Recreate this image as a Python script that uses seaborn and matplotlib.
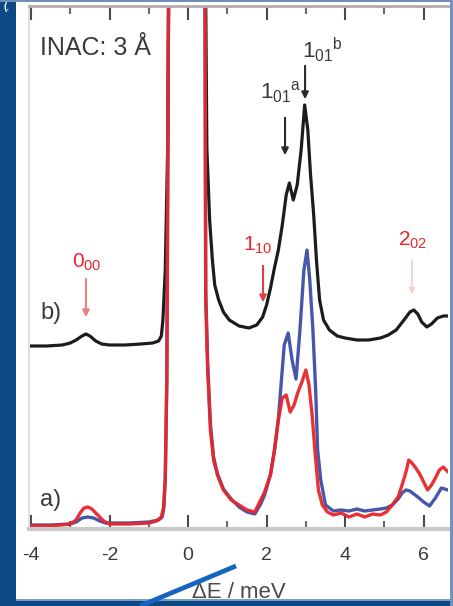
import numpy as np
import pandas as pd
import matplotlib
matplotlib.use("Agg")
import matplotlib.pyplot as plt
import seaborn as sns
from matplotlib.patches import Rectangle
from matplotlib.lines import Line2D

# ---------------- data ----------------
# b) INAC 3 Å spectrum (black), arbitrary intensity units
energy_b = [-4.05, -3.6, -3.2, -3.0, -2.85, -2.7, -2.6, -2.5, -2.35, -2.2, -2.0, -1.6,
            -1.2, -0.9, -0.75, -0.68, -0.64, -0.58, -0.52, -0.46, 0.0, 0.41, 0.48,
            0.55, 0.62, 0.68, 0.78, 0.9, 1.05, 1.3, 1.55, 1.75, 1.9, 2.0, 2.1, 2.2,
            2.3, 2.4, 2.5, 2.58, 2.68, 2.78, 2.88, 2.97, 3.05, 3.12, 3.2, 3.27, 3.35,
            3.45, 3.6, 3.8, 4.0, 4.3, 4.6, 4.9, 5.1, 5.3, 5.5, 5.65, 5.75, 5.85, 5.95,
            6.08, 6.2, 6.35, 6.5, 6.62]
intensity_b = [183, 183, 184, 186, 189, 193, 195, 193, 188, 185, 184, 184,
               185, 186, 188, 193, 209, 259, 379, 729, 4000, 729, 380,
               309, 269, 244, 229, 217, 209, 203, 201, 204, 212, 224, 241, 261,
               279, 304, 334, 346, 329, 344, 379, 424, 399, 354, 314, 269, 229,
               209, 199, 193, 191, 189, 189, 191, 194, 199, 209, 217, 219, 215, 207,
               202, 205, 211, 213, 213]

# a) red spectrum
energy_a_red = [-4.05, -3.5, -3.0, -2.85, -2.75, -2.65, -2.55, -2.45, -2.3, -2.15, -2.0,
                -1.5, -1.0, -0.8, -0.68, -0.62, -0.58, -0.54, -0.5, -0.45, 0.0, 0.41,
                0.45, 0.5, 0.57, 0.65, 0.75, 0.9, 1.1, 1.3, 1.5, 1.7, 1.85, 1.95, 2.1,
                2.2, 2.3, 2.4, 2.5, 2.6, 2.7, 2.8, 2.9, 3.0, 3.08, 3.16, 3.24, 3.32,
                3.42, 3.55, 3.7, 3.9, 4.1, 4.3, 4.5, 4.7, 4.9, 5.05, 5.2, 5.35, 5.45,
                5.55, 5.62, 5.7, 5.8, 5.9, 6.0, 6.1, 6.2, 6.3, 6.4, 6.5, 6.62]
intensity_a_red = [3, 3, 5, 9, 16, 21, 22, 20, 14, 8, 5,
                   5, 6, 8, 12, 22, 50, 150, 500, 900, 4000, 900,
                   229, 159, 99, 69, 54, 39, 29, 24, 19, 17, 29, 37, 54,
                   79, 109, 131, 134, 117, 124, 137, 147, 159, 144, 114, 74, 39,
                   24, 17, 14, 16, 12, 15, 12, 15, 14, 17, 24, 32, 44,
                   57, 69, 66, 61, 55, 47, 39, 44, 51, 59, 62, 57]

# a) blue spectrum
energy_a_blue = [-4.05, -3.5, -3.0, -2.85, -2.7, -2.55, -2.4, -2.25, -2.1, -1.5, -1.0,
                 -0.75, -0.66, -0.62, -0.58, -0.54, -0.5, -0.45, 0.0, 0.41, 0.45, 0.5,
                 0.57, 0.65, 0.75, 0.9, 1.1, 1.3, 1.5, 1.7, 1.85, 1.95, 2.1, 2.2, 2.3,
                 2.38, 2.45, 2.55, 2.65, 2.75, 2.85, 2.95, 3.03, 3.1, 3.18, 3.25, 3.3,
                 3.38, 3.5, 3.7, 3.9, 4.1, 4.3, 4.5, 4.7, 4.9, 5.05, 5.2, 5.35, 5.45,
                 5.55, 5.65, 5.75, 5.85, 6.0, 6.15, 6.3, 6.45, 6.62]
intensity_a_blue = [4, 4, 5, 7, 11, 12, 11, 8, 6, 6, 7,
                    9, 12, 20, 50, 150, 500, 900, 4000, 900, 240, 165,
                    105, 72, 55, 40, 30, 22, 17, 15, 25, 34, 55, 78, 110,
                    150, 184, 196, 169, 150, 199, 259, 279, 249, 199, 139, 79,
                    49, 24, 18, 19, 18, 20, 18, 19, 20, 21, 24, 30, 36,
                    39, 38, 35, 32, 27, 23, 31, 41, 39]

xtick_values = [-4, -2, 0, 2, 4, 6]
xtick_labels = ["-4", "-2", "0", "2", "4", "6"]
minor_tick_values = [-3, -1, 1, 3, 5]

# ---------------- style ----------------
sns.set_style("white")
plt.rcParams["font.family"] = ["Liberation Sans", "DejaVu Sans"]
plt.rcParams["mathtext.fontset"] = "custom"
plt.rcParams["mathtext.rm"] = "Liberation Sans"
plt.rcParams["mathtext.it"] = "Liberation Sans"
plt.rcParams["mathtext.default"] = "rm"
plt.rcParams["axes.unicode_minus"] = False

BLACK = "#1c1c1c"
RED = "#e8262b"
BLUE = "#3d4fa6"
GRAY_TXT = "#3a3a3a"
NAVY = "#0c4883"

fig = plt.figure(figsize=(4.53, 6.06), dpi=100)
fig.patch.set_facecolor("white")
ax = fig.add_axes([29 / 453, 1 - 529 / 606, (448 - 29) / 453, (529 - 6) / 606])
ax.set_facecolor("white")

df_b = pd.DataFrame({"E": energy_b, "I": intensity_b})
df_r = pd.DataFrame({"E": energy_a_red, "I": intensity_a_red})
df_bl = pd.DataFrame({"E": energy_a_blue, "I": intensity_a_blue})

sns.lineplot(data=df_b, x="E", y="I", ax=ax, color=BLACK, lw=2.3, sort=False,
             estimator=None, solid_joinstyle="round")
sns.lineplot(data=df_bl, x="E", y="I", ax=ax, color=BLUE, lw=2.4, sort=False,
             estimator=None, alpha=0.95)
sns.lineplot(data=df_r, x="E", y="I", ax=ax, color=RED, lw=2.4, sort=False,
             estimator=None, alpha=0.95)

ax.set_xlim(-4.05, 6.62)
ax.set_ylim(0, 523)
ax.set_xticks(xtick_values)
ax.set_xticklabels(xtick_labels)
ax.set_xticks(minor_tick_values, minor=True)
ax.set_yticks([])
ax.set_ylabel("")
ax.tick_params(axis="x", which="major", direction="in", length=10, width=1.5,
               color="#4a4a4a", top=True, bottom=True, labelsize=14,
               labelcolor=GRAY_TXT, pad=13)
ax.tick_params(axis="x", which="minor", direction="in", length=6, width=1.5,
               color="#6a6a6a", top=True, bottom=True)
ax.set_xlabel("ΔE / meV", fontsize=16, color="#4a4a4a", labelpad=13)

for side in ["left", "top", "bottom", "right"]:
    ax.spines[side].set_visible(True)
ax.spines["bottom"].set_color("#c9c9c9")
ax.spines["bottom"].set_linewidth(3)
ax.spines["top"].set_color("#b4acac")
ax.spines["top"].set_linewidth(2)
ax.spines["left"].set_color("#dde0e8")
ax.spines["left"].set_linewidth(1.5)
ax.spines["right"].set_visible(False)

# ---------------- annotations ----------------
ax.text(-3.77, 481, "INAC: 3 Å", fontsize=18, color=GRAY_TXT, va="center", ha="left")
ax.text(-3.77, 216, "b)", fontsize=17, color=GRAY_TXT, va="center", ha="left")
ax.text(-3.77, 29, "a)", fontsize=17, color=GRAY_TXT, va="center", ha="left")

ax.text(2.90, 479, r"$1_{01}{}^{b}$", fontsize=16, color=GRAY_TXT, va="center", ha="left")
ax.annotate("", xy=(2.98, 427), xytext=(2.98, 466),
            arrowprops=dict(arrowstyle="-|>", color="#2a2a2a", lw=1.5, mutation_scale=10))
ax.text(1.83, 437, r"$1_{01}{}^{a}$", fontsize=16, color=GRAY_TXT, va="center", ha="left")
ax.annotate("", xy=(2.47, 371), xytext=(2.47, 414),
            arrowprops=dict(arrowstyle="-|>", color="#2a2a2a", lw=1.5, mutation_scale=10))

ax.text(-2.95, 267, r"$0_{00}$", fontsize=15, color=RED, va="center", ha="left")
ax.annotate("", xy=(-2.6, 209), xytext=(-2.6, 253),
            arrowprops=dict(arrowstyle="-|>", color="#ec7f7f", lw=1.5, mutation_scale=10))
ax.text(1.40, 284, r"$1_{10}$", fontsize=15, color=RED, va="center", ha="left")
ax.annotate("", xy=(1.91, 224), xytext=(1.91, 266),
            arrowprops=dict(arrowstyle="-|>", color="#e04040", lw=1.5, mutation_scale=10))
ax.text(5.34, 289, r"$2_{02}$", fontsize=15, color=RED, va="center", ha="left")
ax.annotate("", xy=(5.70, 232), xytext=(5.70, 272),
            arrowprops=dict(arrowstyle="-|>", color="#f6d0d0", lw=1.2, mutation_scale=9))

# ---------------- page frame (cropped figure look) ----------------
W, H = 453, 606
def fig_rect(x0, y0, x1, y1, color, z=20):
    fig.patches.append(Rectangle((x0 / W, 1 - y1 / H), (x1 - x0) / W, (y1 - y0) / H,
                                 transform=fig.transFigure, facecolor=color,
                                 edgecolor="none", zorder=z))
fig_rect(0, 0, 16, H, NAVY)
fig_rect(0, 600, W, H, NAVY)
fig_rect(16, 599, W, 601, "#7d9cc6")
fig_rect(0, 0, W, 2, "#6f8fb8")
fig_rect(450, 0, W, H, "#7393bd")
fig.lines.append(Line2D([140 / W, 236 / W], [1 - 606 / H, 1 - 566 / H],
                        transform=fig.transFigure, color="#1565c0", lw=3.4,
                        solid_capstyle="butt", zorder=25))
fig.text(3 / W, 1 - 10 / H, "(.", color="white", fontsize=7, fontweight="bold",
         va="baseline", ha="left", zorder=30)

fig.savefig("out.png", dpi=100, facecolor=fig.get_facecolor())
